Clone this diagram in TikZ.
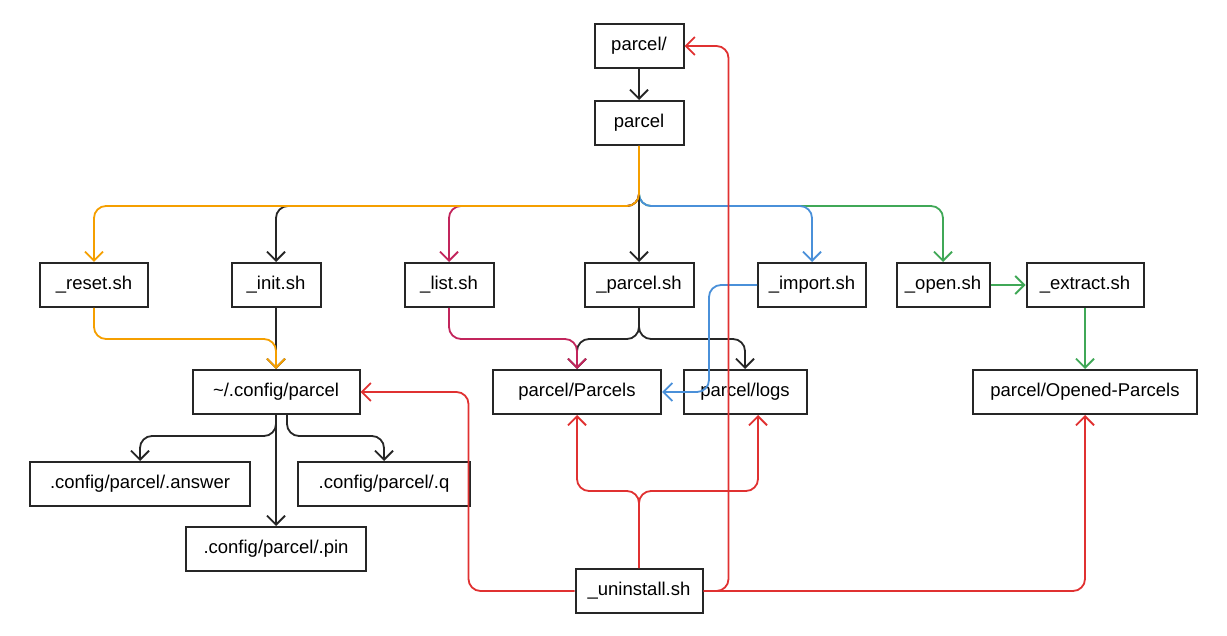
\documentclass[tikz,border=0pt]{standalone}
\usepackage{fontspec}
\setmainfont{Liberation Sans}
\usepackage{tikz}
\usetikzlibrary{arrows.meta,positioning}

\definecolor{lineorange}{HTML}{F59F00}
\definecolor{linepink}{HTML}{C2255C}
\definecolor{lineblue}{HTML}{4A90D9}
\definecolor{linegreen}{HTML}{40A857}
\definecolor{linered}{HTML}{E03131}

\tikzset{
  box/.style={draw=black!85, line width=2pt, minimum height=44pt, inner sep=0pt,
    font=\fontsize{18.5}{22}\selectfont},
  link/.style={->, line width=1.8pt, rounded corners=12pt},
}

\begin{document}
\begin{tikzpicture}[x=1pt,y=-1pt,>={Straight Barb[length=9pt,width=18pt]}]
      \useasboundingbox (0,0) rectangle (1227,636);
      % top
      \node[box,minimum width=89pt] (root) at (639,46) {parcel/};
      \node[box,minimum width=89pt] (parcel) [below=31pt of root] {parcel};
      % scripts
      \node[box,minimum width=108pt] (reset) at (94,285) {\_reset.sh};
      \node[box,minimum width=89pt] (init) at (276,285) {\_init.sh};
      \node[box,minimum width=89pt] (list) at (449,285) {\_list.sh};
      \node[box,minimum width=109pt] (psh) at (639,285) {\_parcel.sh};
      \node[box,minimum width=108pt] (import) at (812,285) {\_import.sh};
      \node[box,minimum width=93pt] (open) at (943,285) {\_open.sh};
      \node[box,minimum width=117pt] (extract) at (1085,285) {\_extract.sh};
      % folders
      \node[box,minimum width=167pt] (cfg) at (276,392) {\textasciitilde/.config/parcel};
      \node[box,minimum width=168pt] (parcels) at (577,392) {parcel/Parcels};
      \node[box,minimum width=123pt] (logs) at (745,392) {parcel/logs};
      \node[box,minimum width=224pt] (opened) at (1085,392) {parcel/Opened-Parcels};
      \node[box,minimum width=220pt] (answer) at (140,484) {.config/parcel/.answer};
      \node[box,minimum width=172pt] (q) at (384,484) {.config/parcel/.q};
      \node[box,minimum width=180pt] (pin) at (276,549) {.config/parcel/.pin};
      \node[box,minimum width=127pt] (uninst) at (639,591) {\_uninstall.sh};

      \draw[link,black!85] (root) -- (parcel);
      % parcel fans out
      \draw[link,linegreen] (parcel.south) -- ++(0,60) -| (open.north);
      \draw[link,lineblue] (parcel.south) -- ++(0,60) -| (import.north);
      \draw[link,linepink] (parcel.south) -- ++(0,60) -| (list.north);
      \draw[link,black!85] (parcel.south) -- ++(0,60) -| (init.north);
      \draw[link,black!85] (parcel.south) -- (psh.north);
      \draw[link,lineorange] (parcel.south) -- ++(0,60) -| (reset.north);
      % scripts to folders
      \draw[link,black!85] (init) -- (cfg);
      \draw[link,lineorange] (reset.south) -- ++(0,31) -| (cfg.north);
      \draw[link,black!85] (psh.south) -- ++(0,31) -| (parcels.north);
      \draw[link,black!85] (psh.south) -- ++(0,31) -| (logs.north);
      \draw[link,linepink] (list.south) -- ++(0,31) -| (parcels.north);
      \draw[link,lineblue] (import.west) -- ++(-48,0) |- (parcels.east);
      \draw[link,linegreen] (open) -- (extract);
      \draw[link,linegreen] (extract) -- (opened);
      % config files
      \draw[link,black!85] (cfg.south) -- ++(0,21) -| (answer.north);
      \draw[link,black!85] (cfg) -- (pin);
      \draw[link,black!85] ([xshift=11pt]cfg.south) -- ++(0,21) -| (q.north);
      % uninstall
      \draw[link,linered] (uninst.north) -- ++(0,-77) -| (parcels.south);
      \draw[link,linered] (uninst.north) -- ++(0,-77) -| ([xshift=13pt]logs.south);
      \draw[link,linered] (uninst.west) -- ++(-106,0) |- (cfg.east);
      \draw[link,linered] (uninst.east) -| (opened.south);
      \draw[link,linered] (uninst.east) -- ++(25,0) |- (root.east);
\end{tikzpicture}
\end{document}
